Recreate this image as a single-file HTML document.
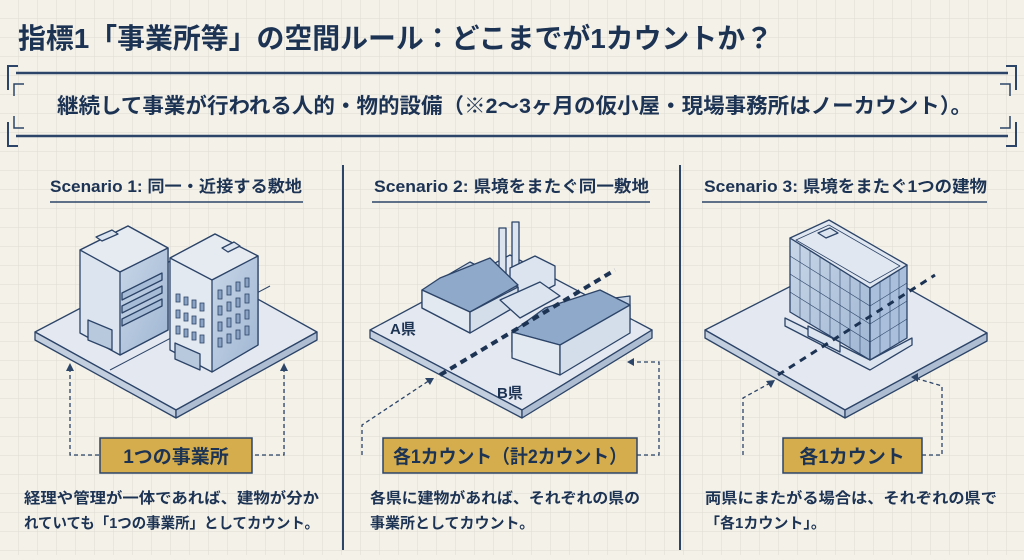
<!DOCTYPE html>
<html><head><meta charset="utf-8"><style>
html,body{margin:0;padding:0;}
body{width:1024px;height:555px;overflow:hidden;background:#f3f1e8;font-family:"Liberation Sans","Noto Sans CJK JP",sans-serif;}
svg text{font-family:"Liberation Sans","Noto Sans CJK JP",sans-serif;fill:#1d3354;font-weight:bold;}
</style></head><body>
<svg width="1024" height="555" viewBox="0 0 1024 555" xmlns="http://www.w3.org/2000/svg">
<defs>
<pattern id="g" width="19" height="19" patternUnits="userSpaceOnUse">
<path d="M19 0V19H0" fill="none" stroke="#dddbd2" stroke-width="1"/>
</pattern>
<linearGradient id="bl" x1="0" y1="0" x2="1" y2="1"><stop offset="0" stop-color="#c9d7e8"/><stop offset="1" stop-color="#9fb6d3"/></linearGradient>
</defs>
<rect width="1024" height="555" fill="#f3f1e8"/>
<rect width="1024" height="555" fill="url(#g)"/>

<text x="18" y="48" font-size="28" textLength="755" lengthAdjust="spacingAndGlyphs">指標1「事業所等」の空間ルール：どこまでが1カウントか？</text>

<!-- frame -->
<g fill="none" stroke="#2c4468" stroke-width="2">
<path d="M18 66H8V90M1006 66H1016V90M8 122V146H18M1016 122V146H1006"/>
<line x1="16" y1="73" x2="1008" y2="73" stroke-width="2.5"/>
<line x1="16" y1="136" x2="1008" y2="136" stroke-width="2.5"/>
<path d="M24 84H14V96M1000 84H1010V96M14 116V128H24M1010 116V128H1000" stroke-width="1.5"/>
</g>
<text x="57" y="113" font-size="21" textLength="915" lengthAdjust="spacingAndGlyphs">継続して事業が行われる人的・物的設備（※2〜3ヶ月の仮小屋・現場事務所はノーカウント）。</text>

<!-- dividers -->
<line x1="343" y1="165" x2="343" y2="550" stroke="#2c4468" stroke-width="2"/>
<line x1="680" y1="165" x2="680" y2="550" stroke="#2c4468" stroke-width="2"/>

<!-- headers -->
<text x="50" y="192" font-size="16.5" textLength="252" lengthAdjust="spacingAndGlyphs">Scenario 1: 同一・近接する敷地</text>
<line x1="50" y1="202" x2="303" y2="202" stroke="#2c4468" stroke-width="1.5"/>
<text x="374" y="192" font-size="16.5" textLength="275" lengthAdjust="spacingAndGlyphs">Scenario 2: 県境をまたぐ同一敷地</text>
<line x1="372" y1="202" x2="650" y2="202" stroke="#2c4468" stroke-width="1.5"/>
<text x="704" y="192" font-size="16.5" textLength="283" lengthAdjust="spacingAndGlyphs">Scenario 3: 県境をまたぐ1つの建物</text>
<line x1="702" y1="202" x2="987" y2="202" stroke="#2c4468" stroke-width="1.5"/>

<g stroke="#2c4468" stroke-width="1.3" stroke-linejoin="round">
<!-- platform 1 -->
<polygon points="35,332 180,256 317,332 176,410" fill="#e4e8f0"/>
<polygon points="35,332 176,410 176,418 35,340" fill="#c3cede"/>
<polygon points="176,410 317,332 317,340 176,418" fill="#aebdd2"/>
<line x1="110" y1="370" x2="270" y2="286" stroke-width="1"/>
<!-- building 1 -->
<polygon points="80,250 128,226 168,248 168,330 120,355 80,333" fill="#dbe4ef"/>
<polygon points="80,250 128,226 168,248 120,272" fill="#e6ebf2"/>
<polygon points="120,272 168,248 168,330 120,355" fill="url(#bl)"/>
<polygon points="96,237 112,230 118,234 102,241" fill="#dbe4ef"/>
<g fill="#a7bcd6"><polygon points="122,293 162,273 162,280 122,300"/><polygon points="122,306 162,286 162,293 122,313"/><polygon points="122,319 162,299 162,306 122,326"/></g>
<polygon points="88,320 112,330 112,350 88,340" fill="#b9c9dd"/>
<!-- building 2 -->
<polygon points="170,258 215,234 258,256 258,345 212,372 170,350" fill="#e3e9f1"/>
<polygon points="170,258 215,234 258,256 212,280" fill="#e6ebf2"/>
<polygon points="212,280 258,256 258,345 212,372" fill="url(#bl)"/>
<polygon points="222,248 234,242 240,246 228,252" fill="#dbe4ef"/>
<polygon points="175,343 200,354 200,370 175,359" fill="#b9c9dd"/>
</g>
<g fill="#8aa3c4" stroke="#2c4468" stroke-width="0.8">
<rect x="176" y="294" width="4" height="8"/><rect x="184" y="297" width="4" height="8"/><rect x="192" y="300" width="4" height="8"/><rect x="200" y="303" width="4" height="8"/>
<rect x="176" y="310" width="4" height="8"/><rect x="184" y="313" width="4" height="8"/><rect x="192" y="316" width="4" height="8"/><rect x="200" y="319" width="4" height="8"/>
<rect x="176" y="326" width="4" height="8"/><rect x="184" y="329" width="4" height="8"/><rect x="192" y="332" width="4" height="8"/><rect x="200" y="335" width="4" height="8"/>
<rect x="218" y="290" width="4" height="9"/><rect x="227" y="286" width="4" height="9"/><rect x="236" y="282" width="4" height="9"/><rect x="245" y="278" width="4" height="9"/>
<rect x="218" y="306" width="4" height="9"/><rect x="227" y="302" width="4" height="9"/><rect x="236" y="298" width="4" height="9"/><rect x="245" y="294" width="4" height="9"/>
<rect x="218" y="322" width="4" height="9"/><rect x="227" y="318" width="4" height="9"/><rect x="236" y="314" width="4" height="9"/><rect x="245" y="310" width="4" height="9"/>
<rect x="218" y="338" width="4" height="9"/><rect x="227" y="334" width="4" height="9"/><rect x="236" y="330" width="4" height="9"/><rect x="245" y="326" width="4" height="9"/>
</g>

<!-- platform 2 -->
<g stroke="#2c4468" stroke-width="1.3" stroke-linejoin="round">
<polygon points="370,330 510,255 652,330 522,410" fill="#e4e8f0"/>
<polygon points="370,330 522,410 522,418 370,338" fill="#c3cede"/>
<polygon points="522,410 652,330 652,338 522,418" fill="#aebdd2"/>
<rect x="499" y="228" width="7" height="46" fill="#dbe4ef"/><rect x="512" y="222" width="7" height="52" fill="#dbe4ef"/>
<polygon points="510,268 535,256 555,266 555,285 530,298 510,288" fill="#dbe4ef"/>
<polygon points="422,290 470,262 518,287 518,305 470,333 422,308" fill="#c6d4e6"/>
<polygon points="422,290 440,278 490,258 518,285 470,312" fill="#8fa9ca"/>
<polygon points="422,290 470,312 470,333 422,308" fill="#e3e9f1"/>
<polygon points="470,312 518,287 518,305 470,333" fill="#d4deeb"/>
<polygon points="500,300 540,282 560,296 520,318" fill="#dbe4ef"/>
<polygon points="512,332 560,305 630,296 630,320 560,355 512,352" fill="#c6d4e6"/>
<polygon points="512,332 545,308 600,290 630,305 590,330 560,345" fill="#8fa9ca"/>
<polygon points="512,332 560,345 560,375 512,358" fill="#e3e9f1"/>
<polygon points="560,345 630,305 630,333 560,375" fill="#d4deeb"/>
</g>
<line x1="440" y1="375" x2="615" y2="270" stroke="#1d3354" stroke-width="4" stroke-dasharray="7,5"/>
<text x="390" y="334" font-size="15">A県</text>
<text x="497" y="398" font-size="15">B県</text>

<!-- platform 3 -->
<g stroke="#2c4468" stroke-width="1.3" stroke-linejoin="round">
<polygon points="705,330 850,256 987,333 845,410" fill="#e4e8f0"/>
<polygon points="705,330 845,410 845,418 705,338" fill="#c3cede"/>
<polygon points="845,410 987,333 987,341 845,418" fill="#aebdd2"/>
<!-- podium -->
<polygon points="785,318 870,360 912,338 912,345 870,370 785,326" fill="#dbe4ef"/>
<!-- front face -->
<polygon points="790,238 870,288 870,360 790,312" fill="url(#bl)"/>
<!-- right face -->
<polygon points="870,288 907,265 907,338 870,360" fill="#a9bfdb"/>
<!-- top -->
<polygon points="790,238 829,220 907,265 870,288" fill="#e1e7f0"/>
<polygon points="796,240 829,225 900,266 870,283" fill="none" stroke-width="0.8"/>
<polygon points="818,233 830,228 838,233 826,238" fill="#dbe4ef"/>
<polygon points="808,326 840,342 840,352 808,336" fill="#dbe4ef"/>
</g>
<g stroke="#2c4468" stroke-width="0.6" fill="none">
<path d="M800 244V318M810 250V324M820 257V330M830 263V336M840 269V342M850 275V348M860 282V354"/>
<path d="M790 256L870 306M790 274L870 324M790 292L870 342"/>
<path d="M880 282V354M890 276V348M899 270V343"/>
<path d="M870 306L907 283M870 324L907 301M870 342L907 319"/>
</g>
<line x1="778" y1="375" x2="935" y2="275" stroke="#1d3354" stroke-width="3" stroke-dasharray="7,6"/>

<!-- connectors -->
<g fill="none" stroke="#2c4468" stroke-width="1.3" stroke-dasharray="4,3">
<path d="M70 368V455H100M284 368V455H252"/>
<path d="M362 455V425L430 380M637 455H659V362H630"/>
<path d="M743 455V398L772 382M922 455H942V386L915 378"/>
</g>
<g fill="#2c4468">
<polygon points="70,363 66,371 74,371"/><polygon points="284,363 280,371 288,371"/>
<polygon points="434,378 425,378 430,385"/><polygon points="627,362 634,358 634,366"/>
<polygon points="775,380 766,381 771,388"/><polygon points="911,377 918,373 918,382"/>
</g>

<!-- gold labels -->
<g fill="#d5ad4c" stroke="#2c4468" stroke-width="1.5">
<rect x="100" y="438" width="152" height="35"/>
<rect x="383" y="438" width="254" height="35"/>
<rect x="783" y="438" width="139" height="35"/>
</g>
<text x="176" y="463" font-size="19" text-anchor="middle">1つの事業所</text>
<text x="510" y="463" font-size="19" text-anchor="middle" textLength="234" lengthAdjust="spacingAndGlyphs">各1カウント（計2カウント）</text>
<text x="852" y="463" font-size="19" text-anchor="middle">各1カウント</text>

<!-- descriptions -->
<g font-size="15">
<text x="24" y="503" textLength="295" lengthAdjust="spacingAndGlyphs">経理や管理が一体であれば、建物が分か</text>
<text x="24" y="528" textLength="295" lengthAdjust="spacingAndGlyphs">れていても「1つの事業所」としてカウント。</text>
<text x="370" y="503" textLength="270" lengthAdjust="spacingAndGlyphs">各県に建物があれば、それぞれの県の</text>
<text x="370" y="528">事業所としてカウント。</text>
<text x="705" y="503" textLength="292" lengthAdjust="spacingAndGlyphs">両県にまたがる場合は、それぞれの県で</text>
<text x="705" y="528">「各1カウント」。</text>
</g>
</svg>
</body></html>
